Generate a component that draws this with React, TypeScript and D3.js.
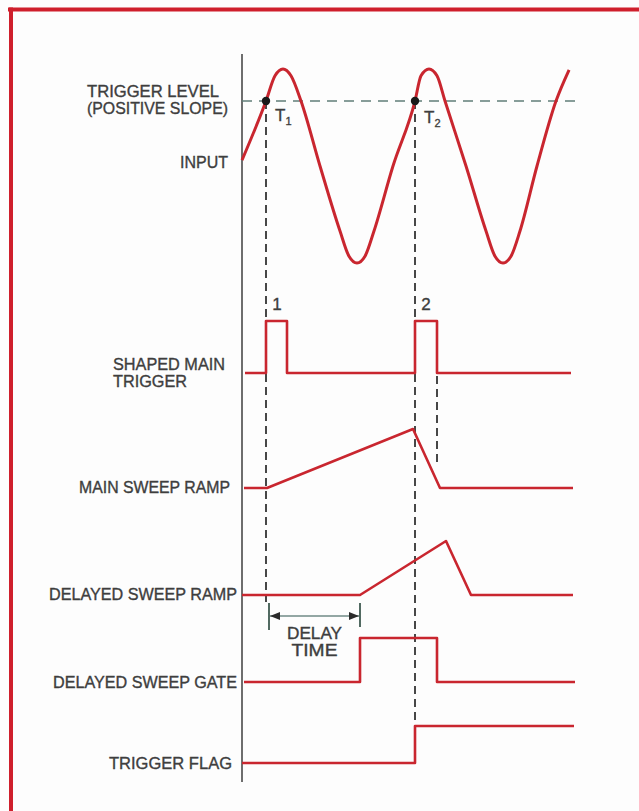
import React from 'react';
import * as d3 from 'd3';

const W = 639;
const H = 811;

// ---- data (time in arbitrary units) ----
const timeDomain = [0, 340];

// input waveform key points (time, normalised volts)
const inputT = [0, 24, 33, 41, 49, 59, 78, 98, 107, 115, 123, 132, 151, 173, 179, 187, 195, 203, 224, 244, 253, 261, 269, 278, 295, 314, 327];
const inputV = [0.06, 0.67, 0.93, 1.0, 0.93, 0.67, 0, -0.67, -0.93, -1, -0.93, -0.67, 0, 0.67, 0.93, 1.0, 0.93, 0.67, 0, -0.67, -0.93, -1, -0.93, -0.67, 0, 0.67, 0.99];
const triggerLevel = 0.67;
const triggerLevelEnd = 336;
const triggerTimes = [24, 173];
const triggerNames = ['1', '2'];

// shaped main trigger (step)
const trigT = [3, 24, 45, 173, 195, 329];
const trigV = [0, 1, 0, 1, 0, 0];

// main sweep ramp
const mainT = [2, 25, 171, 198, 331];
const mainV = [0, 0, 1, 0, 0];

// delayed sweep ramp
const delT = [0, 118, 204, 229, 331];
const delV = [0, 0, 1, 0, 0];

// delayed sweep gate (step)
const gateT = [2, 118, 195, 333];
const gateV = [0, 1, 0, 0];

// trigger flag (step)
const flagT = [0, 173, 332];
const flagV = [0, 1, 1];

// delay time interval
const delayStart = 27;
const delayEnd = 118;
const retraceEnd = 195;

const labels = [
  'TRIGGER LEVEL',
  '(POSITIVE SLOPE)',
  'INPUT',
  'SHAPED MAIN',
  'TRIGGER',
  'MAIN SWEEP RAMP',
  'DELAYED SWEEP RAMP',
  'DELAYED SWEEP GATE',
  'TRIGGER FLAG',
];

// ---- layout ----
const X0 = 242;
const x = d3.scaleLinear().domain(timeDomain).range([X0, X0 + 340]);
const yIn = d3.scaleLinear().domain([-1, 1]).range([263, 69]);
const yTrig = d3.scaleLinear().domain([0, 1]).range([373, 321]);
const yMain = d3.scaleLinear().domain([0, 1]).range([488, 429]);
const yDel = d3.scaleLinear().domain([0, 1]).range([595, 541]);
const yGate = d3.scaleLinear().domain([0, 1]).range([682, 638]);
const yFlag = d3.scaleLinear().domain([0, 1]).range([763, 726]);

const labelPos: { x: number; y: number; anchor: string; w: number }[] = [
  { x: 87, y: 97, anchor: 'start', w: 132 },
  { x: 87, y: 114, anchor: 'start', w: 141 },
  { x: 228, y: 168, anchor: 'end', w: 48 },
  { x: 113, y: 370, anchor: 'start', w: 112 },
  { x: 113, y: 387, anchor: 'start', w: 74 },
  { x: 230, y: 493, anchor: 'end', w: 151 },
  { x: 237, y: 600, anchor: 'end', w: 188 },
  { x: 237, y: 688, anchor: 'end', w: 184 },
  { x: 232, y: 769, anchor: 'end', w: 123 },
];

const RED = '#c9262f';
const DASH = '#474747';
const TEXT = '#3e3e3e';
const FONT = '"Liberation Sans", Arial, Helvetica, sans-serif';

function zip(t: number[], v: number[]) {
  return t.map((tt, i) => [tt, v[i]] as [number, number]);
}

export default function App() {
  const inputLine = d3
    .line<[number, number]>()
    .x((d) => x(d[0]))
    .y((d) => yIn(d[1]))
    .curve(d3.curveMonotoneX);

  const mk = (ys: d3.ScaleLinear<number, number>, curve: d3.CurveFactory) =>
    d3
      .line<[number, number]>()
      .x((d) => x(d[0]))
      .y((d) => ys(d[1]))
      .curve(curve);

  const paths = [
    mk(yTrig, d3.curveStepAfter)(zip(trigT, trigV)),
    mk(yMain, d3.curveLinear)(zip(mainT, mainV)),
    mk(yDel, d3.curveLinear)(zip(delT, delV)),
    mk(yGate, d3.curveStepAfter)(zip(gateT, gateV)),
    mk(yFlag, d3.curveStepAfter)(zip(flagT, flagV)),
  ];

  const yTL = yIn(triggerLevel);

  const textProps = {
    fontFamily: FONT,
    fontSize: 16,
    fill: TEXT,
    stroke: TEXT,
    strokeWidth: 0.35,
  };

  return (
    <svg
      width={W}
      height={H}
      viewBox={`0 0 ${W} ${H}`}
      style={{ position: 'absolute', left: 0, top: 0, background: '#fdfdfd' }}
    >
      <defs>
        <marker id="ah" viewBox="0 0 10 8" refX="10" refY="4" markerWidth="10" markerHeight="8" markerUnits="userSpaceOnUse" orient="auto-start-reverse">
          <path d="M0,0 L10,4 L0,8 Z" fill="#2a2a2a" />
        </marker>
      </defs>
      <rect x={0} y={0} width={W} height={H} fill="#fdfdfd" />
      {/* frame */}
      <line x1={8} y1={9.5} x2={W} y2={9.5} stroke="#cf1f2c" strokeWidth={4} />
      <line x1={11} y1={7.5} x2={11} y2={H} stroke="#cf1f2c" strokeWidth={4} />

      {/* vertical axis */}
      <line x1={X0} y1={54} x2={X0} y2={782} stroke="#4a4a4a" strokeWidth={1.6} />

      {/* trigger level */}
      <line
        x1={x(0)}
        y1={yTL}
        x2={x(triggerLevelEnd)}
        y2={yTL}
        stroke="#607d78"
        strokeWidth={1.7}
        strokeDasharray="10 7"
      />

      {/* dashed markers */}
      <line x1={x(triggerTimes[0])} y1={yTL} x2={x(triggerTimes[0])} y2={yDel(0) + 7} stroke={DASH} strokeWidth={2} strokeDasharray="8 5" />
      <line x1={x(triggerTimes[1])} y1={yTL} x2={x(triggerTimes[1])} y2={yFlag(1)} stroke={DASH} strokeWidth={2} strokeDasharray="8 5" />
      <line x1={x(retraceEnd)} y1={yTrig(0) + 3} x2={x(retraceEnd)} y2={yMain(0) - 22} stroke={DASH} strokeWidth={2} strokeDasharray="8 5" />

      {/* waveforms */}
      <path d={inputLine(zip(inputT, inputV)) || ''} fill="none" stroke={RED} strokeWidth={3} />
      {paths.map((p, i) => (
        <path key={i} d={p || ''} fill="none" stroke={RED} strokeWidth={2.6} strokeLinejoin="round" />
      ))}

      {/* trigger points */}
      {triggerTimes.map((t, i) => (
        <g key={i}>
          <circle cx={x(t)} cy={yTL} r={4.2} fill="#1a1a1a" />
          <text x={x(t) + 9} y={yTL + 20 + i * 2} {...textProps} fontSize={17}>
            T<tspan dy={4} fontSize={11}>{triggerNames[i]}</tspan>
          </text>
          <text x={x(t) + 11} y={yTrig(1) - 11} {...textProps} fontSize={17} textAnchor="middle">
            {triggerNames[i]}
          </text>
        </g>
      ))}

      {/* delay time */}
      <line x1={x(delayStart)} y1={yDel(0) + 8} x2={x(delayStart)} y2={yDel(0) + 35} stroke="#3f5a50" strokeWidth={1.8} />
      <line x1={x(delayEnd)} y1={yDel(0) + 8} x2={x(delayEnd)} y2={yDel(0) + 32} stroke="#3f5a50" strokeWidth={1.8} />
      <line
        x1={x(delayStart) + 1}
        y1={yDel(0) + 21}
        x2={x(delayEnd) - 1}
        y2={yDel(0) + 21}
        stroke="#6f8a86"
        strokeWidth={1.6}
        markerStart="url(#ah)"
        markerEnd="url(#ah)"
      />
      <text x={(x(delayStart) + x(delayEnd)) / 2} y={639} {...textProps} textAnchor="middle" textLength={55} lengthAdjust="spacingAndGlyphs">
        DELAY
      </text>
      <text x={(x(delayStart) + x(delayEnd)) / 2} y={656} {...textProps} textAnchor="middle" textLength={46} lengthAdjust="spacingAndGlyphs">
        TIME
      </text>

      {/* labels */}
      {labels.map((l, i) => (
        <text
          key={l}
          x={labelPos[i].x}
          y={labelPos[i].y}
          textAnchor={labelPos[i].anchor as any}
          textLength={labelPos[i].w}
          lengthAdjust="spacingAndGlyphs"
          {...textProps}
        >
          {l}
        </text>
      ))}
    </svg>
  );
}
